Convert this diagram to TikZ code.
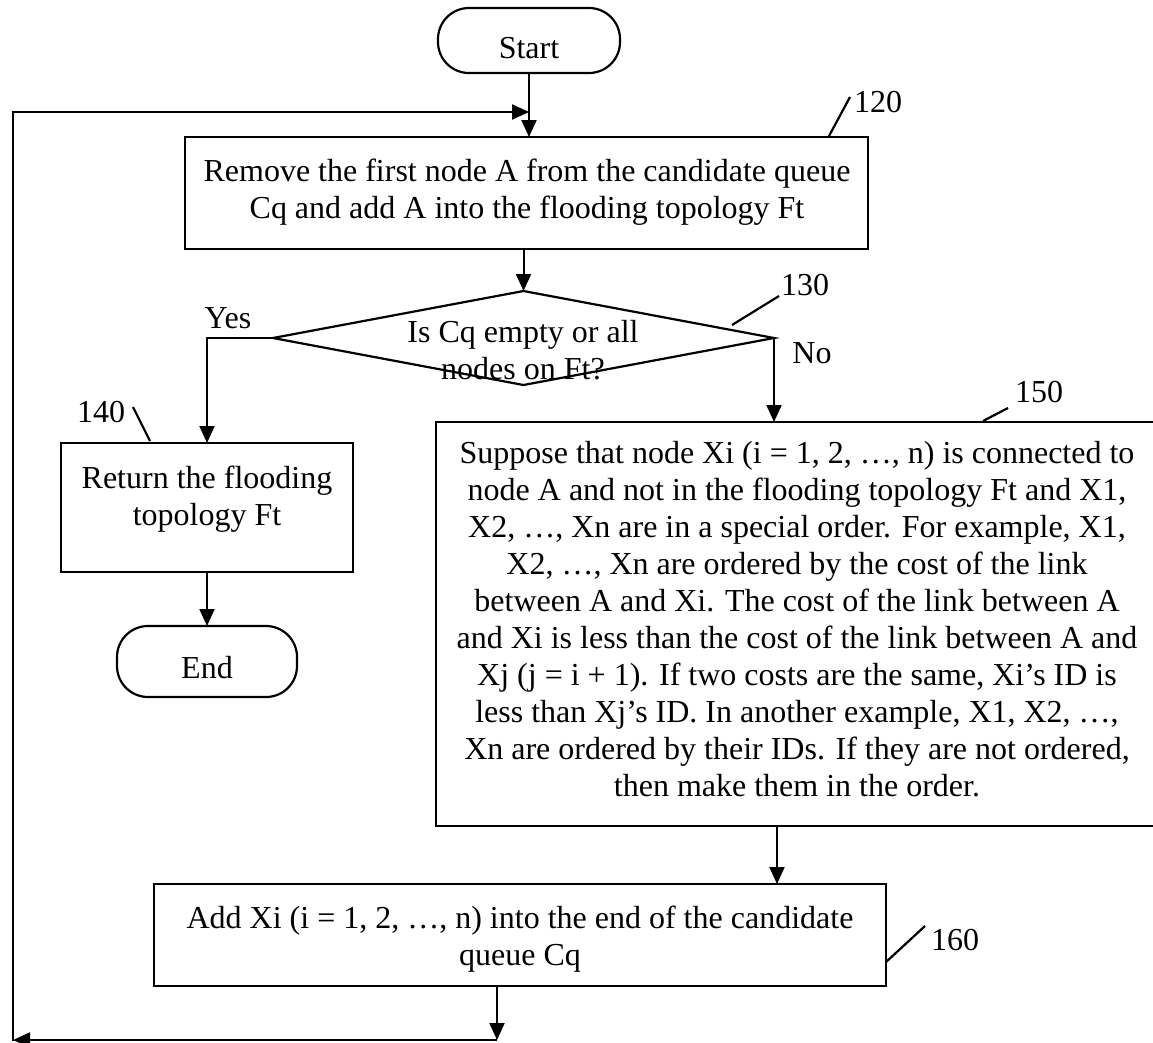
\documentclass[tikz,border=0pt]{standalone}
\usepackage{fontspec}
\setmainfont{Liberation Serif}
\usetikzlibrary{arrows.meta,shapes.geometric}

\begin{document}
\begin{tikzpicture}[x=1pt,y=-1pt,
  every node/.style={font=\fontsize{32}{37}\selectfont, inner sep=0pt, outer sep=0pt},
  stepbox/.style={draw, line width=2.2pt, rectangle},
  terminal/.style={draw, line width=2.2pt, rectangle, rounded corners=31pt},
  decision/.style={draw, line width=2.2pt, diamond},
  txt/.style={align=center},
  flow/.style={line width=2pt, -{Triangle[length=17pt 0,width=15pt 0]}},
  plain/.style={line width=2pt, line cap=rect},
  leader/.style={line width=2.2pt}]

\useasboundingbox (0,0) rectangle (1153,1042);

% shapes
\node[terminal, minimum width=182pt, minimum height=65pt] (start) at (529,40.5) {};
\node[stepbox, minimum width=683pt, minimum height=112pt] (b120) at (526.5,193) {};
\node[decision, minimum width=501pt, minimum height=94pt] (d130) at (523.5,338) {};
\node[stepbox, minimum width=292pt, minimum height=129pt] (b140) at (207,507.5) {};
\node[terminal, minimum width=180pt, minimum height=71pt] (end) at (207,661.5) {};
\node[stepbox, minimum width=722pt, minimum height=404pt] (b150) at (797,624) {};
\node[stepbox, minimum width=732pt, minimum height=102pt] (b160) at (520,935) {};

% texts
\node[txt] (tstart) at (529,48) {Start};
\node[txt] (t120) at (527,192) {Remove the first node A from the candidate queue\\Cq and add A into the flooding topology Ft};
\node[txt] (t130) at (523,350.5) {Is Cq empty or all\\nodes on Ft?};
\node[txt] (t140) at (207,499) {Return the flooding\\topology Ft};
\node[txt] (tend) at (207,668) {End};
\node[txt] (t150) at (797,619.5) {Suppose that node Xi (i = 1, 2, …, n) is connected to\\
node A and not in the flooding topology Ft and X1,\\
X2, …, Xn are in a special order. For example, X1,\\
X2, …, Xn are ordered by the cost of the link\\
between A and Xi. The cost of the link between A\\
and Xi is less than the cost of the link between A and\\
Xj (j = i + 1). If two costs are the same, Xi’s ID is\\
less than Xj’s ID. In another example, X1, X2, …,\\
Xn are ordered by their IDs. If they are not ordered,\\
then make them in the order.};
\node[txt] (t160) at (520,939) {Add Xi (i = 1, 2, …, n) into the end of the candidate\\queue Cq};

% branch labels
\node (yes) at (228,318) {Yes};
\node (no) at (812,353) {No};

% reference numerals
\node (n120) at (878,102) {120};
\node (n130) at (805,285) {130};
\node (n140) at (101,412) {140};
\node (n150) at (1039,392) {150};
\node (n160) at (955,940) {160};

\coordinate (l120a) at (829,136); \coordinate (l120b) at (850,97);
\coordinate (l130a) at (732,325); \coordinate (l130b) at (779,296);
\coordinate (l140a) at (150,441); \coordinate (l140b) at (133,407);
\coordinate (l150a) at (983,421); \coordinate (l150b) at (1008,408);
\coordinate (l160a) at (886,962); \coordinate (l160b) at (925,926);
\draw[leader] (l120a) -- (l120b);
\draw[leader] (l130a) -- (l130b);
\draw[leader] (l140a) -- (l140b);
\draw[leader] (l150a) -- (l150b);
\draw[leader] (l160a) -- (l160b);

% main flow
\draw[flow] (start.south) -- (start.south |- b120.north);
\draw[flow] (b120.south -| d130.north) -- (d130.north);
\draw[flow] (d130.west) -- (d130.west -| b140.north) -- (b140.north);
\draw[flow] (d130.east) -- (d130.east |- b150.north);
\draw[flow] (b140.south) -- (end.north);
\coordinate (mid150) at (777,826);
\draw[flow] (mid150) -- (mid150 |- b160.north);

% return loop
\coordinate (loopTL) at (13,112);
\coordinate (loopTR) at (529,112);
\coordinate (loopBL) at (13,1040);
\coordinate (loopBR) at (497,1040);
\draw[flow] (b160.south -| loopBR) -- (loopBR);
\draw[flow] (loopBR) -- (loopBL);
\draw[plain] (loopBL) -- (loopTL);
\draw[flow] (loopTL) -- (loopTR);
\end{tikzpicture}
\end{document}
